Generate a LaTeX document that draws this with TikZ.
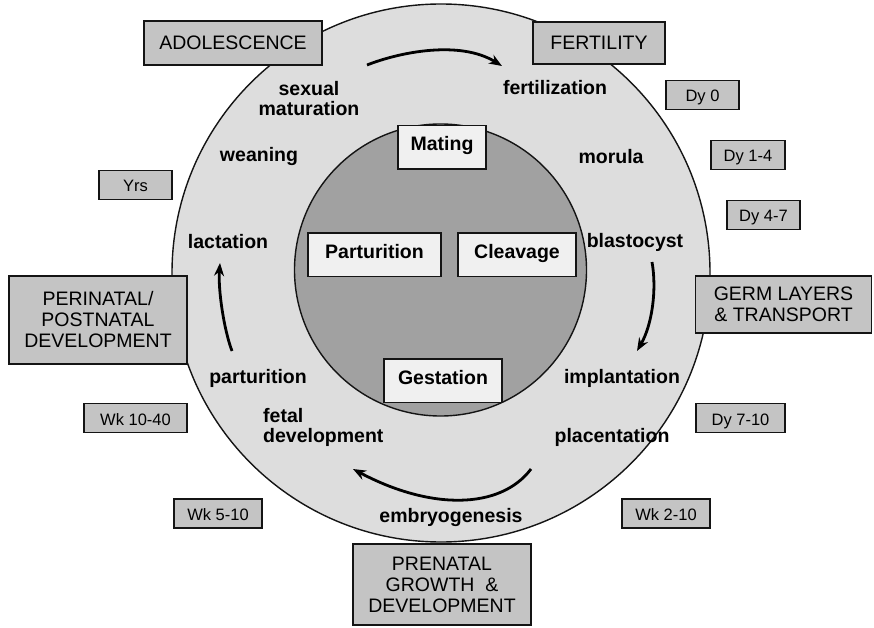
\documentclass[tikz,border=0pt]{standalone}
\usepackage{fontspec}
\setmainfont{Liberation Sans}
\usetikzlibrary{arrows.meta}
\definecolor{ringgray}{gray}{0.865}
\definecolor{coregray}{gray}{0.63}
\definecolor{boxgray}{gray}{0.77}
\definecolor{innerfill}{gray}{0.94}
\definecolor{edgecol}{gray}{0.08}
\begin{document}
\begin{tikzpicture}[x=1pt,y=-1pt,
  stage/.style={draw=edgecol, line width=1.8pt, fill=boxgray, inner sep=0pt, align=center,
    font=\fontsize{19.5}{21}\selectfont},
  tbox/.style={draw=edgecol, line width=1.8pt, fill=boxgray, inner sep=0pt,
    minimum height=29pt, text height=14pt, text depth=0pt, font=\fontsize{16.5}{18}\selectfont},
  ibox/.style={draw=edgecol, line width=1.5pt, fill=innerfill, inner sep=0pt,
    minimum height=43.5pt, text height=14pt, text depth=7pt, font=\bfseries\fontsize{19.5}{21}\selectfont},
  lbl/.style={font=\bfseries\fontsize{19.5}{20}\selectfont, align=center, inner sep=0pt},
  flow/.style={line width=2.8pt, -{Stealth[length=13pt,width=10pt]}}]
\useasboundingbox (0,0) rectangle (874,628);
\fill[white] (0,0) rectangle (874,628);

% rings
\draw[fill=ringgray, draw=edgecol, line width=1.4pt] (441,273) circle[radius=269];
\draw[fill=coregray, draw=edgecol, line width=1.4pt] (440.5,270) circle[radius=146];

% ring labels
\node[lbl] (sexmat) at (309,99) {sexual\\maturation};
\node[lbl] (fert) at (555,88) {fertilization};
\node[lbl] (morula) at (611,157) {morula};
\node[lbl] (wean) at (259,157) {weaning};
\node[lbl] (lact) at (228,242) {lactation};
\node[lbl] (blast) at (635,242) {blastocyst};
\node[lbl] (partlbl) at (258,378) {parturition};
\node[lbl] (implant) at (622,378) {implantation};
\node[lbl, align=left, anchor=west] (fetal) at (263,427) {fetal\\development};
\node[lbl] (placent) at (612,437) {placentation};
\node[lbl] (embryo) at (451,517) {embryogenesis};

% arrows
\coordinate (a1s) at (367,65);  \coordinate (a1e) at (502,66);
\coordinate (a2s) at (652,262); \coordinate (a2e) at (637,351);
\coordinate (a3s) at (531,469); \coordinate (a3e) at (353,469);
\coordinate (a4s) at (232,351); \coordinate (a4e) at (220,263);
\draw[flow] (a1s) .. controls (400,52) and (460,40) .. (a1e);
\draw[flow] (a2s) .. controls (657,290) and (652,325) .. (a2e);
\draw[flow] (a3s) .. controls (500,510) and (430,510) .. (a3e);
\draw[flow] (a4s) .. controls (224,330) and (218,290) .. (a4e);

% inner boxes
\node[ibox, minimum width=88pt] (mating) at (442,147.5) {Mating};
\node[ibox, minimum width=133pt] (partur) at (374.5,254.5) {Parturition};
\node[ibox, minimum width=118pt] (cleav) at (517,254.5) {Cleavage};
\node[ibox, minimum width=118pt] (gest) at (443,380.5) {Gestation};

% stage boxes
\node[stage, minimum width=178pt, minimum height=44pt] (adol) at (233,43) {ADOLESCENCE};
\node[stage, minimum width=132pt, minimum height=42pt] (fertil) at (599,43) {FERTILITY};
\node[stage, minimum width=176pt, minimum height=57pt] (germ) at (783.5,304.5) {GERM LAYERS\\\& TRANSPORT};
\node[stage, minimum width=178pt, minimum height=88pt] (peri) at (98,320) {PERINATAL/\\POSTNATAL\\DEVELOPMENT};
\node[stage, minimum width=178pt, minimum height=81pt] (prenat) at (442,584.5) {PRENATAL\\GROWTH\ \ \&\\DEVELOPMENT};

% time boxes
\node[tbox, minimum width=73pt] (dy0) at (702.5,95) {Dy 0};
\node[tbox, minimum width=74pt] (dy14) at (748,155) {Dy 1-4};
\node[tbox, minimum width=73pt] (dy47) at (763.5,215) {Dy 4-7};
\node[tbox, minimum width=89pt] (dy710) at (740.5,418) {Dy 7-10};
\node[tbox, minimum width=88pt] (wk210) at (666,513.5) {Wk 2-10};
\node[tbox, minimum width=88pt] (wk510) at (218,513.5) {Wk 5-10};
\node[tbox, minimum width=103pt] (wk1040) at (135.5,418) {Wk 10-40};
\node[tbox, minimum width=73pt] (yrs) at (135.5,185) {Yrs};
\end{tikzpicture}
\end{document}
